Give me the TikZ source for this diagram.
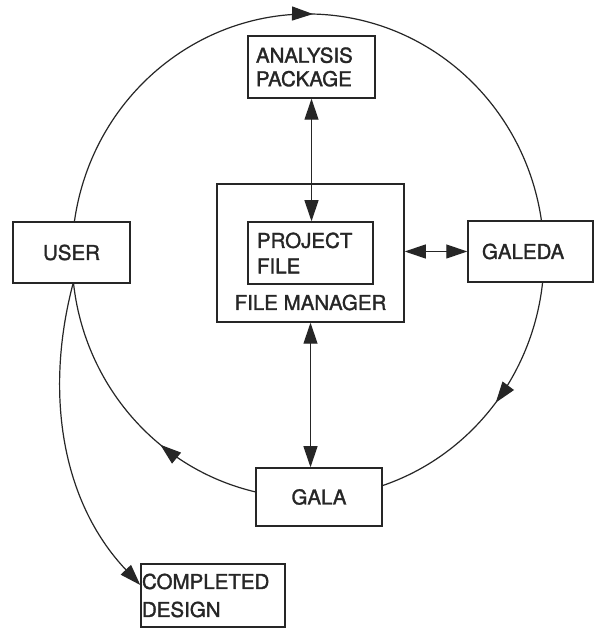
\documentclass[tikz,border=0pt]{standalone}
\usepackage{fontspec}
\newfontfamily\boxfont{TeX Gyre Heros}[FakeBold=1.5]
\usetikzlibrary{arrows.meta,decorations.markings}
\definecolor{ink}{HTML}{262626}
\tikzset{headtip/.tip={Triangle[length=21pt,width=14pt]}}
\begin{document}
\begin{tikzpicture}[x=1pt,y=1pt,
  every node/.style={font=\boxfont\fontsize{20.5}{24}\selectfont, text=ink},
  box/.style={draw=ink, line width=1.5pt, fill=white, inner sep=0pt},
  link/.style={draw=ink, line width=1.2pt},
  flowmark/.style={postaction={decorate},
    decoration={markings, mark=at position #1 with
      {\arrow[ink]{headtip}}}},
  ringarc/.style={x radius=236pt, y radius=242pt},
]
\fill[white] (0,0) rectangle (600,628);
\useasboundingbox (0,0) rectangle (600,628);

% boxes
\node[box, minimum width=127pt, minimum height=62pt, text width=111pt,
      align=left, font=\boxfont\fontsize{20.5}{23.5}\selectfont] (ap) at (311.5,561)
      {ANALYSIS\\PACKAGE};
\node[box, minimum width=187pt, minimum height=138pt] (fm) at (310.5,375) {};
\node[anchor=base, inner sep=0pt] (fmlabel) at (310.5,318) {FILE MANAGER};
\node[box, minimum width=125pt, minimum height=62pt, text width=107pt,
      align=left, font=\boxfont\fontsize{20.5}{25.5}\selectfont] (pf) at (310.5,375)
      {PROJECT\\FILE};
\node[box, minimum width=117pt, minimum height=61pt] (user) at (71.5,375.5) {USER};
\node[box, minimum width=125pt, minimum height=61pt, text width=97pt,
      align=left] (galeda) at (530.5,376.5) {GALEDA};
\node[box, minimum width=126pt, minimum height=58pt] (gala) at (319,131) {GALA};
\node[box, minimum width=144pt, minimum height=63pt, text width=142pt,
      align=left, font=\boxfont\fontsize{20.5}{28}\selectfont] (cd) at (213,32.5)
      {COMPLETED\\DESIGN};

% file manager links
\draw[link,{headtip}-{headtip}] (ap.south) -- (ap.south |- pf.north);
\draw[link,{headtip}-{headtip}] (fm.south) -- (fm.south |- gala.north);
\draw[link,{headtip}-{headtip}] (fm.east |- galeda.west) -- (galeda.west);

% design cycle
\coordinate (o) at (308,372);
\path (o) ++(171.9:236pt and 242pt) coordinate (usertop)
      (o) ++(-6.17:236pt and 242pt) coordinate (galedabot)
      (o) ++(-102.7:236pt and 242pt) coordinate (galaleft);
\draw[link, flowmark=0.508] (usertop) arc[ringarc, start angle=171.9, end angle=8.3];
\draw[link, flowmark=0.478] (galedabot) arc[ringarc, start angle=-6.17, end angle=-71.7];
\draw[link, flowmark=0.364] (galaleft) arc[ringarc, start angle=257.3, end angle=186.4];

% finished output
\draw[link,-{headtip}] ([xshift=1.5pt]user.south) .. controls (45,238) and (60,128) .. ([yshift=10.5pt]cd.west);
\end{tikzpicture}
\end{document}
